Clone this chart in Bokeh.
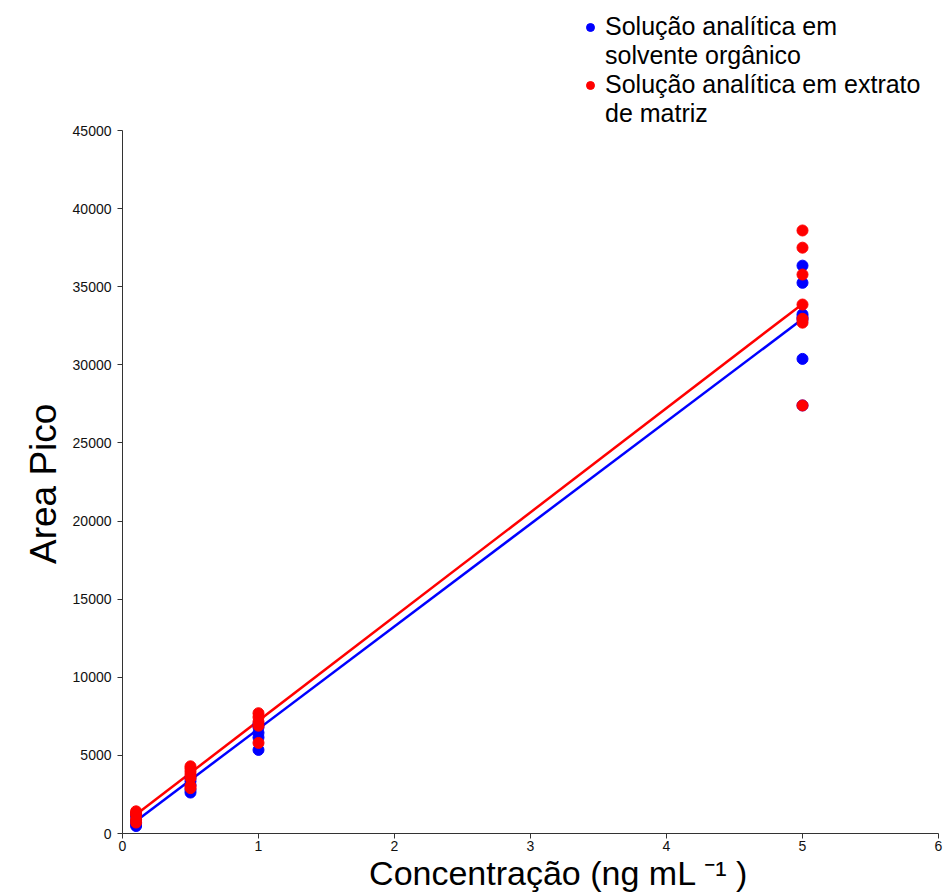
from bokeh.plotting import figure
from bokeh.models import Legend, LegendItem, FixedTicker, Range1d
from bokeh.embed import file_html
from bokeh.resources import INLINE

# ---- data ----
blue_x = [0.1, 0.1, 0.1, 0.1, 0.1,
          0.5, 0.5, 0.5, 0.5, 0.5,
          1, 1, 1, 1, 1,
          5, 5, 5, 5, 5, 5, 5]
blue_y = [480, 620, 800, 1100, 1250,
          2620, 2800, 3100, 3350, 3550,
          5350, 6150, 6450, 6800, 7000,
          36350, 35250, 33230, 33050, 32900, 30380, 27400]
red_x = [0.1, 0.1, 0.1, 0.1, 0.1,
         0.5, 0.5, 0.5, 0.5, 0.5, 0.5, 0.5,
         1, 1, 1, 1, 1,
         5, 5, 5, 5, 5, 5, 5]
red_y = [1420, 1300, 1200, 900, 700,
         2900, 3050, 3550, 3750, 3950, 4150, 4300,
         5800, 6900, 7150, 7450, 7700,
         38600, 37500, 35780, 33860, 32950, 32700, 27400]
fit_x = [0.1, 5]
blue_fit_y = [800, 32930]
red_fit_y = [1215, 33900]

x_ticks = [0, 1, 2, 3, 4, 5, 6]
y_ticks = [0, 5000, 10000, 15000, 20000, 25000, 30000, 35000, 40000, 45000]

legend_blue = ["Solução analítica em", "solvente orgânico"]
legend_red = ["Solução analítica em extrato", "de matriz"]
x_title = "Concentração (ng mL \u207b\u00b9 )"
y_title = "Area Pico"

FONT = "Liberation Sans"

# layout numbers: the plotting frame reaches the top of the canvas so that the
# legend (which sits above the axis) is drawn inside it; the y axis itself is
# bounded to 0..45000.
FRAME_BOTTOM = 833          # expected pixel row of the x axis
AXIS_TOP_PX = 130           # pixel row of the 45000 tick
Y_TOP = 45000 * FRAME_BOTTOM / (FRAME_BOTTOM - AXIS_TOP_PX)

p = figure(width=946, height=894, output_backend="svg", toolbar_location=None,
           x_range=Range1d(0, 6), y_range=Range1d(0, Y_TOP),
           min_border_left=122, min_border_top=0, min_border_right=8,
           min_border_bottom=40)
p.outline_line_color = None
p.grid.grid_line_color = None
p.background_fill_color = "white"
p.border_fill_color = "white"

for ax in (p.xaxis[0], p.yaxis[0]):
    ax.axis_line_color = "#333333"
    ax.major_tick_line_color = "#333333"
    ax.minor_tick_line_color = None
    ax.major_tick_in = 0
    ax.major_tick_out = 5
    ax.major_label_text_font = FONT
    ax.major_label_text_font_size = "14px"
    ax.major_label_text_color = "#111111"
    ax.axis_label_text_font = FONT
    ax.axis_label_text_font_style = "normal"
    ax.axis_label_text_color = "black"
p.xaxis.ticker = FixedTicker(ticks=x_ticks)
p.yaxis.ticker = FixedTicker(ticks=y_ticks)
p.yaxis.bounds = (0, 45000)
p.yaxis.major_label_standoff = 6
p.xaxis.major_label_standoff = 2

# trailing no-break spaces move the centred title down to the axis middle
p.yaxis.axis_label = y_title + "\u00a0" * 13
p.yaxis.axis_label_text_font_size = "37px"
p.yaxis.axis_label_standoff = 6

# leading no-break spaces shift the centred title right, as in the reference
p.xaxis.axis_label = "\u00a0" * 6 + x_title
p.xaxis.axis_label_text_font_size = "34px"
p.xaxis.axis_label_standoff = 0

lb = p.line(fit_x, blue_fit_y, line_color="#0000FF", line_width=2.5)
lr = p.line(fit_x, red_fit_y, line_color="#FF0000", line_width=2.5)
sb = p.scatter(blue_x, blue_y, size=11, fill_color="#0000FF", line_color="#0000FF")
sr = p.scatter(red_x, red_y, size=11, fill_color="#FF0000", line_color="#FF0000")
# invisible placeholder used for the wrapped second line of each legend entry
ph = p.scatter([], [], size=1, fill_alpha=0, line_alpha=0)

legend = Legend(items=[LegendItem(label=legend_blue[0], renderers=[sb]),
                       LegendItem(label=legend_blue[1], renderers=[ph]),
                       LegendItem(label=legend_red[0], renderers=[sr]),
                       LegendItem(label=legend_red[1], renderers=[ph])],
                location=(458, FRAME_BOTTOM - 128), padding=0, spacing=0, margin=0,
                border_line_color=None, background_fill_alpha=0,
                glyph_width=20, glyph_height=20, label_standoff=5,
                label_text_font=FONT, label_text_font_size="25px",
                label_text_color="black", label_height=20)
p.add_layout(legend, "center")

open("out.html", "w").write(file_html(p, INLINE))
